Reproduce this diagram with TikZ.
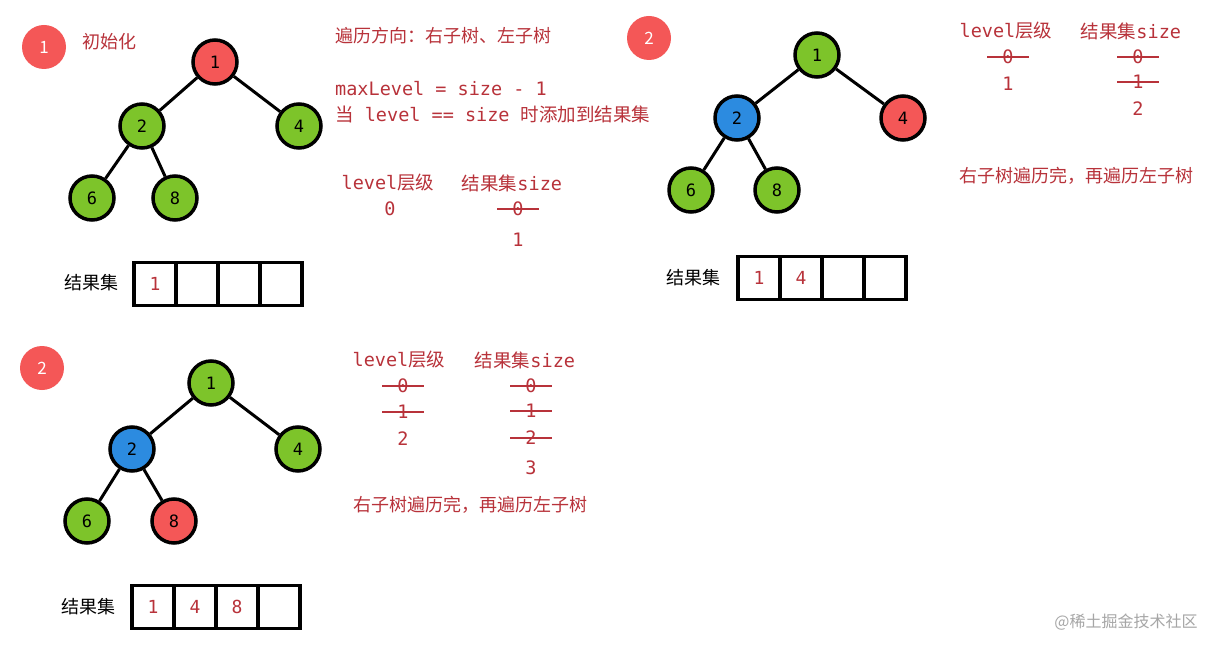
\documentclass[tikz,border=0pt]{standalone}
\usepackage{fontspec}
\newfontfamily\cjk{Noto Sans CJK SC}
\newfontfamily\mono{DejaVu Sans Mono}
\definecolor{tred}{HTML}{B8323A}
\definecolor{nred}{HTML}{F45757}
\definecolor{ngreen}{HTML}{7DC42A}
\definecolor{nblue}{HTML}{2C8BE0}
\begin{document}
\begin{tikzpicture}[x=1pt,y=-1pt,
 tn/.style={circle,draw=black,line width=3.5pt,minimum size=44pt,inner sep=0pt,font=\fontsize{17}{17}\selectfont\mono},
 g/.style={tn,fill=ngreen}, r/.style={tn,fill=nred}, b/.style={tn,fill=nblue},
 edge/.style={line width=3pt},
 badge/.style={circle,fill=nred,minimum size=44pt,inner sep=0pt,text=white,font=\fontsize{17}{17}\selectfont\cjk},
 lab/.style={text=tred,font=\fontsize{18}{20}\selectfont\cjk,inner sep=0pt},
 ml/.style={text=tred,font=\fontsize{18.5}{20}\selectfont\mono,inner sep=0pt},
 st/.style={ml,append after command={([xshift=-15pt]\tikzlastnode.west) edge[draw=tred,line width=2.2pt] ([xshift=15pt]\tikzlastnode.east)}},
 cell/.style={draw=black,line width=3.5pt,minimum width=42pt,minimum height=43pt,inner sep=0pt,text=tred,font=\fontsize{18}{18}\selectfont\mono},
 rl/.style={font=\fontsize{18}{18}\selectfont\cjk,inner sep=0pt}]
\useasboundingbox[fill=white] (0,0) rectangle (1225,652);
% ---------- panel 1
\node[badge] (b1) at (44,47) {1};
\node[lab,anchor=west] (t1) at (82,42) {初始化};
\node[r] (a1) at (215,62) {1};
\node[g] (a2) at (142,126) {2};
\node[g] (a4) at (299,126) {4};
\node[g] (a6) at (92,198) {6};
\node[g] (a8) at (175,198) {8};
\draw[edge] (a1)--(a2) (a1)--(a4) (a2)--(a6) (a2)--(a8);
\node[lab,anchor=west] (d1) at (335,36) {遍历方向：右子树、左子树};
\node[ml,anchor=west] (d2) at (335,89) {maxLevel = size - 1};
\node[ml,anchor=west] (d3) at (335,114) {{\cjk 当} level == size {\cjk 时添加到结果集}};
\node[ml] (h1) at (388,183) {level{\cjk 层级}};
\node[ml] (h2) at (512,183) {{\cjk 结果集}size};
\node[ml] (v1) at (390,209) {0};
\node[st] (w1) at (518,209) {0};
\node[ml] (w2) at (518,240) {1};
\node[rl] (r1) at (91,283) {结果集};
\node[cell] (c11) at (155,284) {1};
\node[cell] (c12) at (197,284) {};
\node[cell] (c13) at (239,284) {};
\node[cell] (c14) at (281,284) {};
% ---------- panel 2
\node[badge] (b2) at (649,38) {2};
\node[g] (p1) at (817,55) {1};
\node[b] (p2) at (737,118) {2};
\node[r] (p4) at (903,118) {4};
\node[g] (p6) at (691,190) {6};
\node[g] (p8) at (777,190) {8};
\draw[edge] (p1)--(p2) (p1)--(p4) (p2)--(p6) (p2)--(p8);
\node[ml] (h3) at (1006,31) {level{\cjk 层级}};
\node[ml] (h4) at (1131,31) {{\cjk 结果集}size};
\node[st] (x1) at (1008,57) {0};
\node[ml] (x2) at (1008,84) {1};
\node[st] (y1) at (1138,57) {0};
\node[st] (y2) at (1138,82) {1};
\node[ml] (y3) at (1138,109) {2};
\node[lab] (n2) at (1076,176) {右子树遍历完，再遍历左子树};
\node[rl] (r2) at (693,278) {结果集};
\node[cell] (c21) at (759,278) {1};
\node[cell] (c22) at (801,278) {4};
\node[cell] (c23) at (843,278) {};
\node[cell] (c24) at (885,278) {};
% ---------- panel 3
\node[badge] (b3) at (42,368) {2};
\node[g] (q1) at (211,383) {1};
\node[b] (q2) at (132,449) {2};
\node[g] (q4) at (298,449) {4};
\node[g] (q6) at (87,521) {6};
\node[r] (q8) at (174,521) {8};
\draw[edge] (q1)--(q2) (q1)--(q4) (q2)--(q6) (q2)--(q8);
\node[ml] (h5) at (399,360) {level{\cjk 层级}};
\node[ml] (h6) at (525,360) {{\cjk 结果集}size};
\node[st] (s1) at (403,386) {0};
\node[st] (s2) at (403,412) {1};
\node[ml] (s3) at (403,439) {2};
\node[st] (u1) at (531,386) {0};
\node[st] (u2) at (531,411) {1};
\node[st] (u3) at (531,438) {2};
\node[ml] (u4) at (531,468) {3};
\node[lab] (n3) at (470,505) {右子树遍历完，再遍历左子树};
\node[rl] (r3) at (88,607) {结果集};
\node[cell] (c31) at (153,607) {1};
\node[cell] (c32) at (195,607) {4};
\node[cell] (c33) at (237,607) {8};
\node[cell] (c34) at (279,607) {};
\node[font=\fontsize{16}{16}\selectfont\cjk,text=gray!70] (wm) at (1126,622) {@稀土掘金技术社区};
\end{tikzpicture}
\end{document}
